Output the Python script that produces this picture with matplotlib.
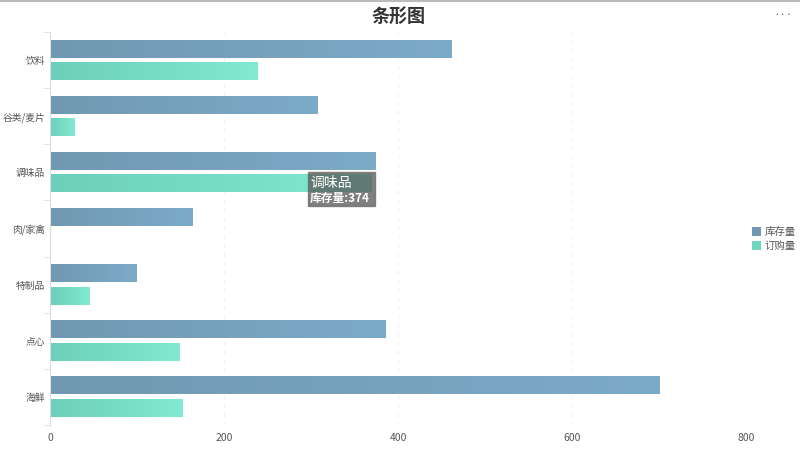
import matplotlib.pyplot as plt
import numpy as np
from matplotlib.colors import LinearSegmentedColormap
from matplotlib.patches import Rectangle

plt.rcParams['font.family'] = ['Noto Sans CJK SC', 'DejaVu Sans']

categories = ['饮料', '谷类/麦片', '调味品', '肉/家禽', '特制品', '点心', '海鲜']
stock = [462, 308, 374, 164, 100, 386, 701]
orders = [239, 28, 370, 0, 45, 149, 152]
series_names = ['库存量', '订购量']

blue_cmap = LinearSegmentedColormap.from_list('b', ['#7098b2', '#7cabc8'])
green_cmap = LinearSegmentedColormap.from_list('g', ['#6ccfb9', '#82e9d2'])

fig = plt.figure(figsize=(8, 4.49), dpi=100)
ax = fig.add_axes([0.0625, 0.0535, 0.87, 0.875])

bar_h = 0.31
grad = np.linspace(0, 1, 256).reshape(1, -1)
y = np.arange(len(categories))
for i, (s, o) in enumerate(zip(stock, orders)):
    yb = y[i] - 0.2
    yg = y[i] + 0.2
    if s > 0:
        ax.imshow(grad, cmap=blue_cmap, aspect='auto', zorder=2,
                  extent=(0, s, yb + bar_h / 2, yb - bar_h / 2))
    if o > 0:
        ax.imshow(grad, cmap=green_cmap, aspect='auto', zorder=2,
                  extent=(0, o, yg + bar_h / 2, yg - bar_h / 2))

ax.set_xlim(0, 800)
ax.set_ylim(len(categories) - 0.5, -0.5)
ax.set_xticks([0, 200, 400, 600, 800])
ax.set_yticks(y)
ax.set_yticklabels(categories)
ax.set_yticks(np.arange(-0.5, len(categories)), minor=True)
ax.tick_params(axis='y', which='major', length=0, pad=3.5, labelsize=7, labelcolor='#555555')
ax.tick_params(axis='y', which='minor', length=4, color='#dddddd')
ax.tick_params(axis='x', length=0, pad=6, labelsize=7.5, labelcolor='#555555')
for xv in [200, 400, 600, 800]:
    ax.axvline(xv, color='#eeeeee', lw=0.8, ls=(0, (3, 5)), zorder=0)
for sp in ['top', 'right', 'bottom']:
    ax.spines[sp].set_visible(False)
ax.spines['left'].set_color('#dddddd')

# tooltip
i = categories.index('调味品')
tip = Rectangle((297, i + 0.0), 76, 0.6, facecolor='#555555', alpha=0.75,
                edgecolor='#666666', zorder=5)
ax.add_patch(tip)
ax.text(299, i + 0.18, categories[i], color='white', fontsize=10, va='center', zorder=6)
ax.text(299, i + 0.46, f'{series_names[0]}:{stock[i]}', color='white', fontsize=8.5,
        fontweight='bold', va='center', zorder=6)

# legend
legend_colors = ['#7098b2', '#6fd6bf']
for k, (name, c) in enumerate(zip(series_names, legend_colors)):
    yy = 1 - 232 / 449 - k * 14 / 449
    fig.patches.append(Rectangle((752 / 800, yy - 4 / 449), 9 / 800, 9 / 449,
                                 transform=fig.transFigure, facecolor=c, edgecolor='none'))
    fig.text(765 / 800, yy, name, fontsize=7.5, color='#555555', va='center')

fig.text(0.4975, 1 - 16 / 449, '条形图', fontsize=13, fontweight='bold',
         color='#333333', ha='center', va='center')
fig.text(783 / 800, 1 - 15 / 449, '•••', fontsize=4.5, color='#555555', ha='center', va='center')
fig.add_artist(plt.Line2D([0, 1], [0.998, 0.998], transform=fig.transFigure,
                          color='#bbbbbb', lw=1.5))

fig.savefig('out.png', dpi=100)
